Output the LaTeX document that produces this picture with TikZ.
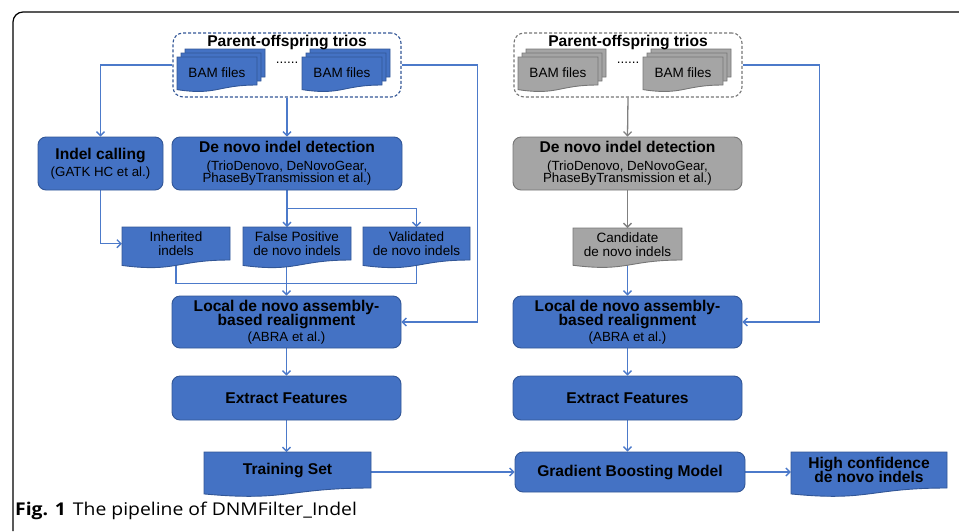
\documentclass[tikz,border=0pt]{standalone}
\usepackage{fontspec}
\setmainfont{Liberation Sans}
\newfontfamily\capfont[FakeStretch=1.1]{Open Sans}
\usetikzlibrary{arrows.meta,calc}
\definecolor{bfill}{RGB}{68,114,196}
\definecolor{bdraw}{RGB}{50,86,150}
\definecolor{bline}{RGB}{76,122,202}
\definecolor{gfill}{RGB}{165,165,165}
\definecolor{gdraw}{RGB}{118,118,118}
\definecolor{gline}{RGB}{128,128,128}
\pgfdeclarelayer{conn}
\pgfdeclarelayer{shp}
\pgfsetlayers{conn,shp,main}
\newcommand\regfont{\fontsize{13.3}{12.8}\selectfont\lineskiplimit=-30pt\relax}
\newcommand\docfont{\fontsize{13.5}{14}\selectfont\lineskiplimit=-30pt\relax}
\newcommand\bfs{\fontsize{15.6}{14}\selectfont\bfseries}
\tikzset{
  bluebox/.style={draw=bdraw, fill=bfill, line width=0.9pt, rounded corners=8pt, inner sep=0pt, align=center, font=\regfont},
  graybox/.style={draw=gdraw, fill=gfill, line width=0.9pt, rounded corners=8pt, inner sep=0pt, align=center, font=\regfont},
  triobox/.style={dashed, line width=1.1pt, dash pattern=on 3pt off 2pt, rounded corners=10pt, minimum width=228, minimum height=64, inner sep=0pt},
  doctext/.style={inner sep=0pt, align=center, font=\docfont},
  bluedoc/.style={fill=bfill, draw=bdraw, line width=0.9pt},
  graydoc/.style={fill=gfill, draw=gdraw, line width=0.9pt},
  conn/.style={draw=bline, line width=1.3pt, -{Straight Barb[length=4pt,width=8pt]}},
  gconn/.style={draw=gline, line width=1.3pt, -{Straight Barb[length=4pt,width=8pt]}},
  plain/.style={draw=bline, line width=1.3pt},
}
% document shape path: left x, top y, width, straight height, style
\newcommand\docpath[5]{%
  \pgfmathsetmacro\xl{#1}%
  \pgfmathsetmacro\yt{#2}%
  \pgfmathsetmacro\dH{(#4)/0.802}%
  \pgfmathsetmacro\xr{\xl+#3}%
  \pgfmathsetmacro\xm{\xl+(#3)/2}%
  \pgfmathsetmacro\yse{\yt+#4}%
  \pgfmathsetmacro\ysw{\yt+0.934*\dH}%
  \pgfmathsetmacro\yc{\yt+1.107*\dH}%
  \path[#5] (\xl,\yt) -- (\xr,\yt) -- (\xr,\yse) .. controls (\xm,\yse) and (\xm,\yc) .. (\xl,\ysw) -- cycle;}
% document node: name, cx, top, width, straight height, style, text
\newcommand\docnode[7]{%
  \node[doctext, minimum width=#4, minimum height=#5, anchor=north] (#1) at (#2,#3) {#7};
  \begin{pgfonlayer}{shp}\docpath{#2-#4/2}{#3}{#4}{#5}{#6}\end{pgfonlayer}}
% BAM stack: name, front left x, front top y, style
\newcommand\bamstack[4]{%
  \begin{pgfonlayer}{shp}
  \docpath{#2+8}{#3-8}{80}{28}{#4}
  \docpath{#2+4}{#3-4}{80}{28}{#4}
  \docpath{#2}{#3}{80}{28}{#4}
  \end{pgfonlayer}
  \node[inner sep=0pt, font=\fontsize{13.5}{14}\selectfont] (#1) at ({#2+40},{#3+16}) {BAM files};}
\begin{document}
\begin{tikzpicture}[x=1pt,y=-1pt]
\useasboundingbox (0,0) rectangle (959,531);
\draw[line width=1.2pt, rounded corners=10pt] (13,531) -- (13,12) -- (959,12);

% ---------- left (blue) ----------
\node[triobox, draw=bdraw] (trioL) at (287,65) {};
\node[inner sep=0pt, font=\bfs] (trioLt) at (287,42) {Parent-offspring trios};
\bamstack{bamL1}{177}{57}{bluedoc}
\bamstack{bamL2}{302}{57}{bluedoc}
\node[inner sep=0pt, anchor=base, font=\fontsize{13.5}{14}\selectfont] (dotsL) at (287,63) {......};

\node[bluebox, minimum width=125, minimum height=53] (indel) at (100.5,163.5)
  {{\bfs Indel calling}\\[4.6pt](GATK HC et al.)};
\node[bluebox, minimum width=230, minimum height=53] (dnL) at (287,163.5)
  {{\bfs De novo indel detection}\\[4.6pt](TrioDenovo, DeNovoGear,\\PhaseByTransmission et al.)};

\docnode{inh}{176}{227}{108}{33}{bluedoc}{Inherited\\indels}
\docnode{fp}{297}{227}{108}{33}{bluedoc}{False Positive\\de novo indels}
\docnode{val}{416.5}{227}{107}{33}{bluedoc}{Validated\\de novo indels}

\node[bluebox, minimum width=229, minimum height=52] (locL) at (286.5,322)
  {{\bfs Local de novo assembly-}\\[1pt]{\bfs based realignment}\\[3pt](ABRA et al.)};
\node[bluebox, minimum width=229, minimum height=44] (extL) at (286.5,398)
  {\bfs Extract Features};
\docnode{train}{287.5}{452}{167}{36}{bluedoc}{\bfs Training Set}

% ---------- right (gray) ----------
\node[triobox, draw=gdraw] (trioR) at (628,65) {};
\node[inner sep=0pt, font=\bfs] (trioRt) at (628,42) {Parent-offspring trios};
\bamstack{bamR1}{518}{57}{graydoc}
\bamstack{bamR2}{643}{57}{graydoc}
\node[inner sep=0pt, anchor=base, font=\fontsize{13.5}{14}\selectfont] (dotsR) at (628,63) {......};

\node[graybox, minimum width=229, minimum height=53] (dnR) at (627.5,163.5)
  {{\bfs De novo indel detection}\\[4.6pt](TrioDenovo, DeNovoGear,\\PhaseByTransmission et al.)};
\docnode{cand}{627.5}{228}{109}{32}{graydoc}{Candidate\\de novo indels}
\node[bluebox, minimum width=229, minimum height=52] (locR) at (627.5,322)
  {{\bfs Local de novo assembly-}\\[1pt]{\bfs based realignment}\\[3pt](ABRA et al.)};
\node[bluebox, minimum width=229, minimum height=44] (extR) at (627.5,398)
  {\bfs Extract Features};
\node[bluebox, minimum width=230, minimum height=40] (grad) at (630,472)
  {\bfs Gradient Boosting Model};
\docnode{high}{869}{452}{156}{36}{bluedoc}{{\bfs High confidence}\\{\bfs de novo indels}}

% ---------- connectors ----------
\begin{pgfonlayer}{conn}
\draw[conn] (trioL.west) -| (indel.north);
\draw[conn] (trioL.south) -- (dnL.north);
\draw[conn] (trioL.east) -- ++(76,0) |- (locL.east);
\draw[conn] (indel.south) |- (inh.west);
\draw[conn] (dnL.south) -- (dnL.south |- fp.north);
\draw[conn] (dnL.south) -- ++(0,18) -| (val.north);
\draw[plain] (inh.south) -- ++(0,23) -| (val.south);
\draw[conn] (locL.north |- fp.south) -- (locL.north);
\draw[conn] (locL.south) -- (extL.north);
\draw[conn] (extL.south) -- (extL.south |- train.north);
\draw[conn] (grad.west -| train.east) -- (grad.west);
\draw[conn] (grad.east) -- (grad.east -| high.west);

\draw[gconn] (trioR.south) -- (dnR.north);
\draw[gconn] (dnR.south) -- (dnR.south |- cand.north);
\draw[conn] (cand.south) -- (locR.north);
\draw[conn] (trioR.east) -- ++(77,0) |- (locR.east);
\draw[conn] (locR.south) -- (extR.north);
\draw[conn] (extR.south) -- (extR.south |- grad.north);
\end{pgfonlayer}

\node[anchor=base west, inner sep=0pt, font=\capfont\fontsize{17.6}{17.6}\selectfont] (cap) at (15,515)
  {\textbf{Fig. 1}\hspace{7pt}The pipeline of DNMFilter\_Indel};
\end{tikzpicture}
\end{document}
